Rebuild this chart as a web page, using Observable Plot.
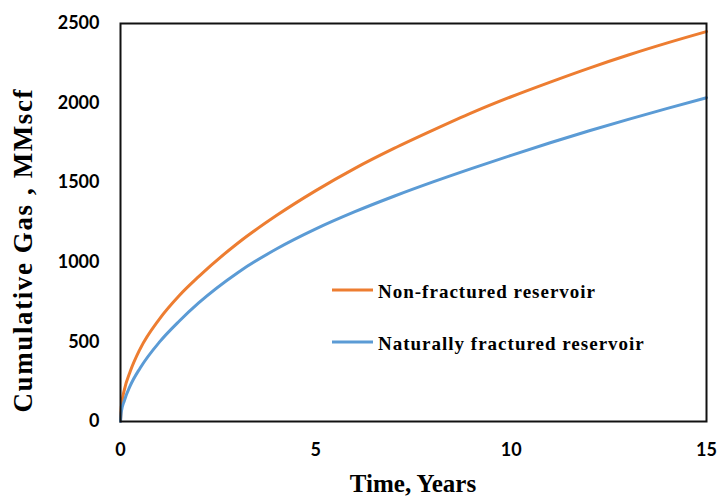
<!DOCTYPE html>
<html><head><meta charset="utf-8">
<script src="https://cdn.jsdelivr.net/npm/d3@7"></script>
<script src="https://cdn.jsdelivr.net/npm/@observablehq/plot@0.6"></script>
<style>
body{margin:0;background:#fff;}
#wrap{position:relative;width:717px;height:496px;}
</style></head><body><div id="wrap"></div>
<script>
const years = [0, 0.02, 0.1, 0.25, 0.5, 1, 1.5, 2, 3, 4, 5, 6, 7, 8, 9, 10, 11, 12, 13, 14, 15];
const nonFractured = [0, 90, 200, 315, 455, 645, 790, 910, 1120, 1295, 1450, 1590, 1715, 1830, 1940, 2040, 2132, 2220, 2302, 2378, 2449];
const naturallyFractured = [0, 60, 132, 225, 335, 500, 630, 745, 935, 1085, 1210, 1318, 1415, 1505, 1590, 1672, 1751, 1826, 1898, 1967, 2034];
const xTicks = [0, 5, 10, 15];
const yTicks = [0, 500, 1000, 1500, 2000, 2500];
const seriesNames = ["Non-fractured reservoir", "Naturally fractured reservoir"];
const seriesColors = ["#ED7D31", "#5B9BD5"];
const xTitle = "Time, Years";
const yTitle = "Cumulative Gas , MMscf";

const rows = [];
years.forEach((t, i) => {
  rows.push({t, v: nonFractured[i], s: seriesNames[0]});
  rows.push({t, v: naturallyFractured[i], s: seriesNames[1]});
});

const W = 717, H = 496, mL = 120, mR = 11, mT = 23, mB = 75;

const chart = Plot.plot({
  width: W, height: H,
  marginLeft: mL, marginRight: mR, marginTop: mT, marginBottom: mB,
  x: {domain: [0, 15], ticks: xTicks, tickFormat: d3.format("d"), tickSize: 0, tickPadding: 22, label: null},
  y: {domain: [0, 2500], ticks: yTicks, tickFormat: d3.format("d"), tickSize: 0, tickPadding: 21, label: null},
  color: {domain: seriesNames, range: seriesColors},
  style: {fontFamily: "Lato, 'Open Sans', sans-serif", fontSize: "18px", fontWeight: 700, color: "#000", background: "#fff"},
  marks: [
    Plot.line(rows, {x: "t", y: "v", stroke: "s", strokeWidth: 3, curve: "monotone-x"}),
    Plot.frame({stroke: "#111", strokeWidth: 2})
  ]
});
document.getElementById("wrap").appendChild(chart);

const svg = d3.select(chart);
const serif = "'Liberation Serif', 'Times New Roman', serif";
svg.append("text")
  .attr("x", (mL + W - mR) / 2).attr("y", 492)
  .attr("text-anchor", "middle")
  .style("font-family", serif).style("font-size", "25px").style("font-weight", 700)
  .attr("fill", "#000")
  .text(xTitle);
svg.append("text")
  .attr("transform", "translate(32,251) rotate(-90)")
  .attr("text-anchor", "middle")
  .attr("textLength", 323).attr("lengthAdjust", "spacing")
  .style("font-family", serif).style("font-size", "27px").style("font-weight", 700)
  .attr("fill", "#000")
  .text(yTitle);

const lg = svg.append("g");
seriesNames.forEach((name, i) => {
  const y = 290 + i * 52;
  lg.append("line").attr("x1", 332).attr("x2", 373).attr("y1", y).attr("y2", y)
    .attr("stroke", seriesColors[i]).attr("stroke-width", 3);
  lg.append("text").attr("x", 378).attr("y", y + 8)
    .attr("text-anchor", "start")
    .style("font-family", serif).style("font-size", "19px").style("font-weight", 700)
    .style("letter-spacing", "1px")
    .attr("fill", "#000")
    .text(name);
});
</script>
</body></html>
